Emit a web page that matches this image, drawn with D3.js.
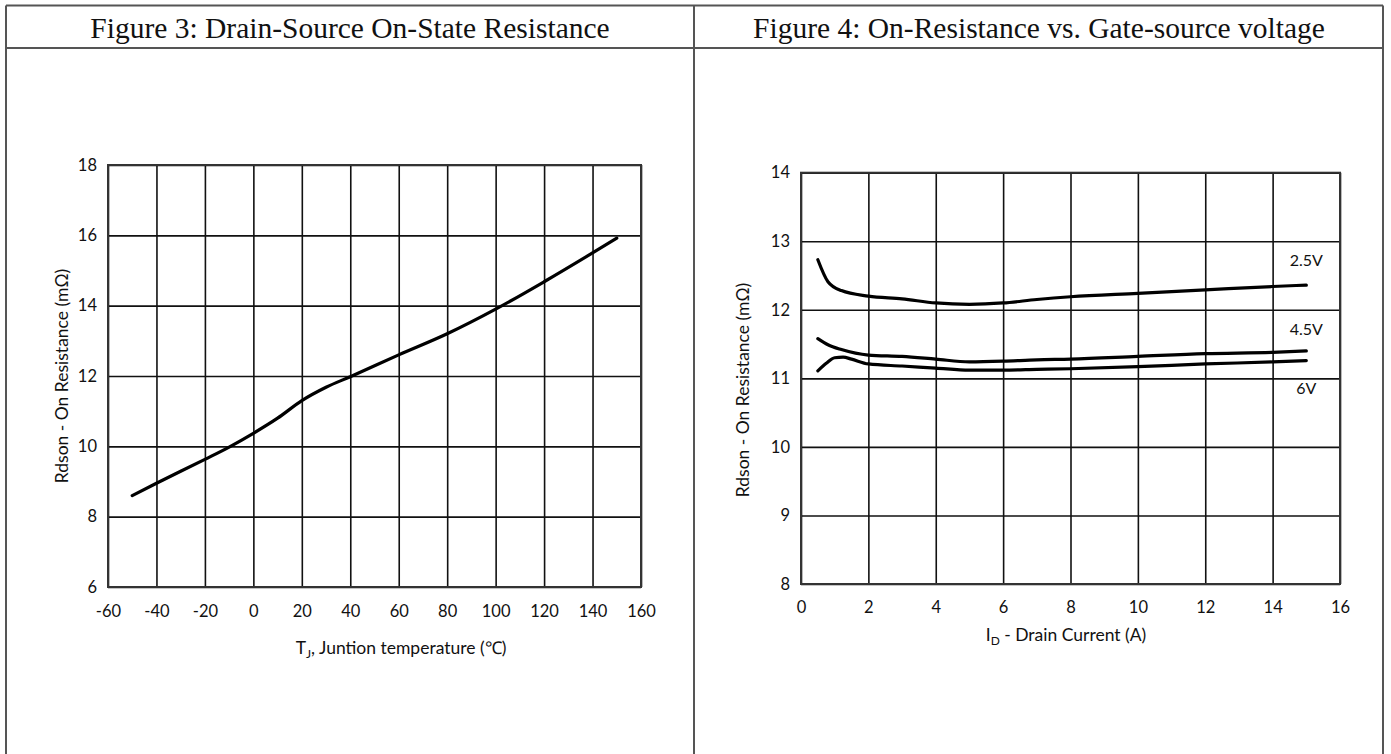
<!DOCTYPE html>
<html>
<head>
<meta charset="utf-8">
<script src="https://cdn.jsdelivr.net/npm/d3@7"></script>
<style>
  body { margin: 0; background: #fff; }
  .tick text { font-family: Lato, 'Open Sans', sans-serif; font-size: 16.5px; fill: #111; }
  .grid line { stroke: #111; stroke-width: 1.6; }
  .grid path { display: none; }
</style>
</head>
<body>
<div id="chart"></div>
<script>
// Figure 3: Rdson vs junction temperature
const tempC = [-50, -40, -20, -10, 0, 10, 20, 30, 40, 60, 80, 100, 120, 140, 150];
const rdsonTemp = [8.6, 8.95, 9.63, 9.98, 10.37, 10.8, 11.3, 11.68, 11.98, 12.6, 13.2, 13.9, 14.68, 15.5, 15.92];
const tempTicks = [-60, -40, -20, 0, 20, 40, 60, 80, 100, 120, 140, 160];
const rdsonTicks3 = [6, 8, 10, 12, 14, 16, 18];

// Figure 4: Rdson vs drain current for three gate voltages
const currentA = [0.5, 0.8, 1.2, 2, 3, 4, 5, 6, 7, 8, 10, 12, 14, 15];
const rdson25V = [12.73, 12.41, 12.28, 12.2, 12.16, 12.1, 12.08, 12.1, 12.15, 12.19, 12.24, 12.29, 12.34, 12.36];
const rdson45V = [11.58, 11.49, 11.42, 11.34, 11.32, 11.28, 11.24, 11.25, 11.27, 11.28, 11.32, 11.36, 11.38, 11.4];
const currentA6 = [0.5, 0.75, 1.0, 1.25, 1.5, 2, 3, 4, 5, 6, 7, 8, 10, 12, 14, 15];
const rdson6V = [11.11, 11.22, 11.3, 11.31, 11.28, 11.21, 11.18, 11.15, 11.12, 11.12, 11.13, 11.14, 11.17, 11.21, 11.24, 11.26];
const seriesNames = ['2.5V', '4.5V', '6V'];
const currentTicks = [0, 2, 4, 6, 8, 10, 12, 14, 16];
const rdsonTicks4 = [8, 9, 10, 11, 12, 13, 14];

const width = 1391,
    height = 754;

const svg = d3.select('#chart').append('svg').attr('width', width).attr('height', height);

// table frame
const frame = svg.append('g').attr('stroke', '#555').attr('stroke-width', 2).attr('fill', 'none');
frame.append('line').attr('x1', 6).attr('x2', 1383).attr('y1', 5.5).attr('y2', 5.5);
frame.append('line').attr('x1', 6).attr('x2', 1383).attr('y1', 48).attr('y2', 48);
frame.append('line').attr('x1', 6).attr('x2', 6).attr('y1', 5.5).attr('y2', height);
frame.append('line').attr('x1', 694).attr('x2', 694).attr('y1', 5.5).attr('y2', height);
frame.append('line').attr('x1', 1383).attr('x2', 1383).attr('y1', 5.5).attr('y2', height);

const titles = [
    { text: 'Figure 3: Drain-Source On-State Resistance', x: 350 },
    { text: 'Figure 4: On-Resistance vs. Gate-source voltage', x: 1039 },
];
svg.selectAll('text.title')
    .data(titles)
    .enter()
    .append('text')
    .attr('class', 'title')
    .attr('x', (d) => d.x)
    .attr('y', 38)
    .attr('text-anchor', 'middle')
    .style('font-family', "'Liberation Serif', 'Times New Roman', serif")
    .style('font-size', '29.5px')
    .attr('fill', '#111')
    .text((d) => d.text);

function drawChart(opt) {
    const g = svg.append('g');
    const x = d3.scaleLinear().domain(opt.xDomain).range([opt.left, opt.right]);
    const y = d3.scaleLinear().domain(opt.yDomain).range([opt.bottom, opt.top]);

    g.append('g')
        .attr('class', 'grid')
        .attr('transform', `translate(0,${opt.bottom})`)
        .call(d3.axisBottom(x).tickValues(opt.xTicks).tickSize(-(opt.bottom - opt.top)).tickPadding(opt.xPad).tickFormat(d3.format('d')))
        .call((a) => a.selectAll('.tick text').text((d) => (d < 0 ? '-' + Math.abs(d) : d)));

    g.append('g')
        .attr('class', 'grid')
        .attr('transform', `translate(${opt.left},0)`)
        .call(d3.axisLeft(y).tickValues(opt.yTicks).tickSize(-(opt.right - opt.left)).tickPadding(11).tickFormat(d3.format('d')));

    g.append('rect')
        .attr('x', opt.left)
        .attr('y', opt.top)
        .attr('width', opt.right - opt.left)
        .attr('height', opt.bottom - opt.top)
        .attr('fill', 'none')
        .attr('stroke', '#333')
        .attr('stroke-width', 2);

    const line = d3
        .line()
        .x((d) => x(d[0]))
        .y((d) => y(d[1]))
        .curve(d3.curveMonotoneX);

    opt.series.forEach((s) => {
        g.append('path')
            .datum(d3.zip(s.xs, s.ys))
            .attr('d', line)
            .attr('fill', 'none')
            .attr('stroke', '#000')
            .attr('stroke-width', 3.2)
            .attr('stroke-linecap', 'round');
    });

    g.append('text')
        .attr('transform', `translate(${opt.yLabelX},${opt.yLabelY}) rotate(-90)`)
        .attr('text-anchor', 'middle')
        .style('font-family', 'Lato, sans-serif')
        .style('font-size', '17.5px')
        .attr('fill', '#111')
        .text('Rdson - On Resistance (mΩ)');

    const xl = g
        .append('text')
        .attr('x', opt.xLabelX)
        .attr('y', opt.xLabelY)
        .attr('text-anchor', 'middle')
        .style('font-family', 'Lato, sans-serif')
        .style('font-size', '17.5px')
        .attr('fill', '#111');
    xl.append('tspan').text(opt.xLabel[0]);
    xl.append('tspan').attr('dy', 4).style('font-size', '12px').text(opt.xLabel[1]);
    xl.append('tspan').attr('dy', -4).text(opt.xLabel[2]);

    return { x, y, g };
}

drawChart({
    left: 108,
    right: 641,
    top: 165,
    bottom: 587,
    xDomain: [-60, 160],
    yDomain: [6, 18],
    xTicks: tempTicks,
    yTicks: rdsonTicks3,
    xPad: 18,
    series: [{ xs: tempC, ys: rdsonTemp }],
    yLabelX: 68,
    yLabelY: 376,
    xLabelX: 401,
    xLabelY: 654,
    xLabel: ['T', 'J', ', Juntion temperature (℃)'],
});

const c4 = drawChart({
    left: 801,
    right: 1340,
    top: 172.7,
    bottom: 584,
    xDomain: [0, 16],
    yDomain: [8, 14],
    xTicks: currentTicks,
    yTicks: rdsonTicks4,
    xPad: 17,
    series: [
        { xs: currentA, ys: rdson25V },
        { xs: currentA, ys: rdson45V },
        { xs: currentA6, ys: rdson6V },
    ],
    yLabelX: 749,
    yLabelY: 390,
    xLabelX: 1066,
    xLabelY: 641,
    xLabel: ['I', 'D', ' - Drain Current (A)'],
});

// series labels at the right end of the curves
const labelPos = [
    { name: seriesNames[0], x: 15, y: 12.72 },
    { name: seriesNames[1], x: 15, y: 11.72 },
    { name: seriesNames[2], x: 15, y: 10.85 },
];
c4.g
    .selectAll('text.series')
    .data(labelPos)
    .enter()
    .append('text')
    .attr('class', 'series')
    .attr('x', (d) => c4.x(d.x))
    .attr('y', (d) => c4.y(d.y))
    .attr('dy', '0.35em')
    .attr('text-anchor', 'middle')
    .style('font-family', 'Lato, sans-serif')
    .style('font-size', '16px')
    .attr('fill', '#111')
    .text((d) => d.name);
</script>
</body>
</html>
